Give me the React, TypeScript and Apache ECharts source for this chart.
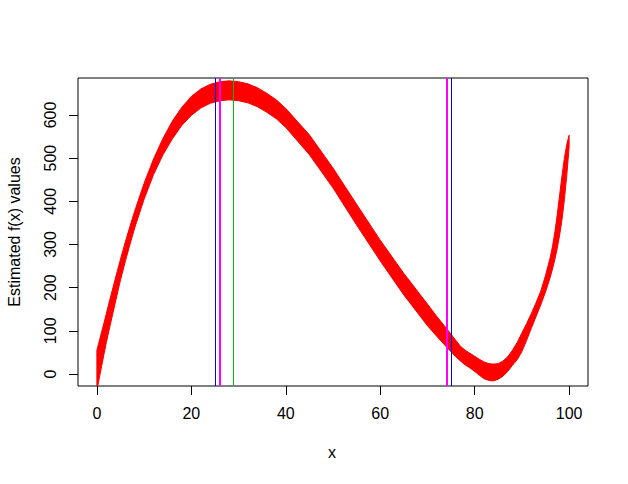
import React, { useEffect, useRef } from "react";
import * as echarts from "echarts";

// Sample positions along x and the upper / lower envelope of the bundle of estimated curves
const xs = [0, 0.5, 1, 1.5, 2, 2.5, 3, 4, 5, 6, 7, 8, 10, 12, 14, 16, 18, 20, 22, 24, 26, 28, 30, 32, 34, 36, 38, 40, 45, 50, 55, 60, 65, 70, 72, 74, 76, 77, 78, 79, 80, 81, 82, 83, 84, 85, 86, 87, 88, 89, 90, 91, 92, 93, 94, 95, 96, 96.5, 97, 97.5, 98, 98.5, 99, 99.5, 100];
const upper = [55, 76, 97, 118, 140, 162, 183, 225, 266, 305, 342, 377, 442, 498, 546, 586, 618, 643, 660, 671, 677, 679, 677, 672, 663, 650, 635, 615, 554, 477, 393, 310, 233, 162, 133, 106, 78, 64, 55, 48, 41, 34, 28, 24, 23, 24, 30, 40, 55, 73, 95, 117, 140, 165, 192, 228, 270, 297, 330, 370, 415, 460, 500, 532, 553];
const lower = [-38, -10, 18, 46, 73, 98, 122, 170, 218, 260, 300, 338, 405, 462, 508, 545, 576, 599, 616, 627, 633, 635, 633, 628, 619, 606, 591, 571, 508, 431, 345, 262, 183, 112, 87, 63, 40, 30, 21, 14, 6, -3, -11, -15, -16, -12, -5, 6, 20, 33, 52, 78, 106, 133, 160, 190, 224, 244, 266, 292, 322, 358, 404, 460, 525];

// Vertical reference lines
const blueLines = [25, 75];
const magentaLines = [26, 74];
const greenLines = [28.8];

// Tick labels
const xTicks = [0, 20, 40, 60, 80, 100];
const yTicks = [0, 100, 200, 300, 400, 500, 600];

const FONT = "Liberation Sans, Arial, sans-serif";

export default function App() {
  const ref = useRef<HTMLDivElement>(null);
  useEffect(() => {
    if (!ref.current) return;
    const chart = echarts.init(ref.current, undefined, { renderer: "svg" });
    const markLines = [
      ...blueLines.map((v) => ({ xAxis: v, lineStyle: { color: "#0000FF", width: 1, type: "solid" } })),
      ...magentaLines.map((v) => ({ xAxis: v, lineStyle: { color: "#FF00FF", width: 2, type: "solid" } })),
      ...greenLines.map((v) => ({ xAxis: v, lineStyle: { color: "#00C000", width: 1, type: "solid" } })),
    ];
    chart.setOption({
      animation: false,
      backgroundColor: "#ffffff",
      grid: {
        left: 78,
        right: 40,
        top: 78,
        bottom: 98,
        show: true,
        borderColor: "#000",
        borderWidth: 1,
        backgroundColor: "transparent",
      },
      xAxis: {
        type: "value",
        min: -4,
        max: 104,
        axisLine: { show: false, onZero: false },
        splitLine: { show: false },
        axisTick: { show: true, length: 9, lineStyle: { color: "#000" }, customValues: xTicks },
        axisLabel: { customValues: xTicks, color: "#000", fontSize: 16, fontFamily: FONT, margin: 19 },
      },
      yAxis: {
        type: "value",
        min: -27.8,
        max: 685.6,
        axisLine: { show: false, onZero: false },
        splitLine: { show: false },
        axisTick: { show: true, length: 9, lineStyle: { color: "#000" }, customValues: yTicks },
        axisLabel: { customValues: yTicks, color: "#000", fontSize: 16, fontFamily: FONT, margin: 20, rotate: 90 },
      },
      graphic: [
        { type: "text", x: 332, y: 452, style: { text: "x", fill: "#000", font: `16px ${FONT}`, textAlign: "center", textVerticalAlign: "middle" } },
        { type: "text", x: 14, y: 232, rotation: Math.PI / 2, style: { text: "Estimated f(x) values", fill: "#000", font: `16px ${FONT}`, textAlign: "center", textVerticalAlign: "middle" } },
      ],
      series: [
        {
          type: "custom",
          clip: true,
          silent: true,
          data: [[0, 0]],
          renderItem: (params: any, api: any) => {
            const top = xs.map((x, i) => api.coord([x, upper[i]]));
            const bot = xs.map((x, i) => api.coord([x, lower[i]])).reverse();
            const cs = params.coordSys;
            return {
              type: "polygon",
              shape: { points: top.concat(bot) },
              style: { fill: "#FF0000", stroke: "#FF0000", lineWidth: 1 },
              clipPath: { type: "rect", shape: { x: cs.x, y: cs.y, width: cs.width, height: cs.height } },
            };
          },
          markLine: { silent: true, symbol: "none", label: { show: false }, data: markLines, animation: false },
        },
      ],
    });
    return () => chart.dispose();
  }, []);
  return <div ref={ref} style={{ width: 628, height: 484, position: "absolute", left: 0, top: 0 }} />;
}
